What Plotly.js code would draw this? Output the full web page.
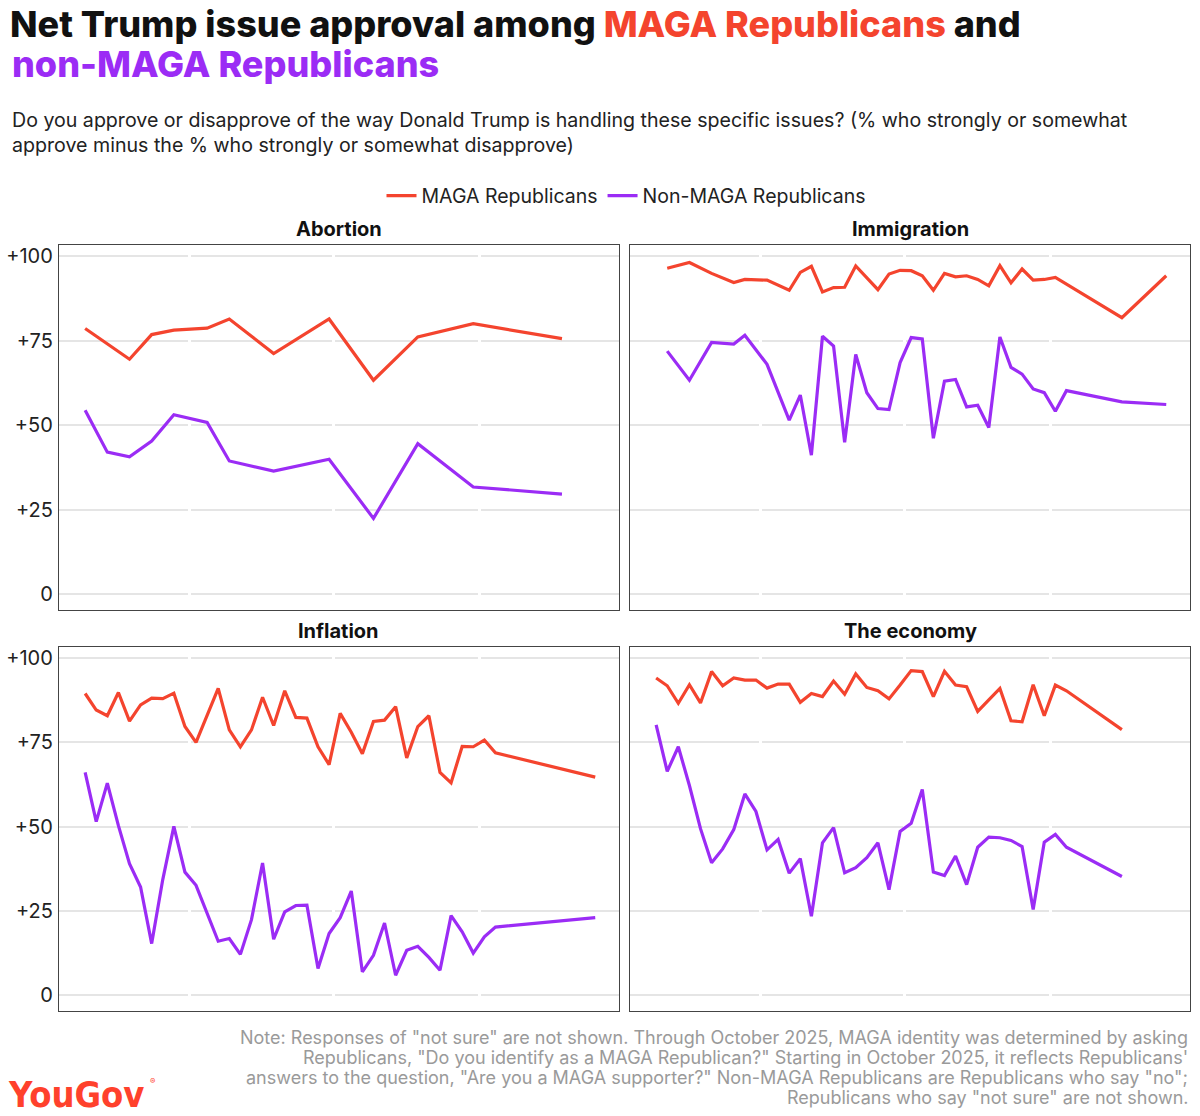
<!DOCTYPE html>
<html>
<head>
<meta charset="utf-8">
<script src="https://cdn.plot.ly/plotly-3.0.1.min.js"></script>
<style>
  html, body { margin: 0; padding: 0; background: #ffffff; }
  #chart { width: 1200px; height: 1116px; }
</style>
</head>
<body>
<div id="chart"></div>
<script>
// ---------------- DATA ----------------
const seriesNames = ["MAGA Republicans", "Non-MAGA Republicans"];
const panelTitles = ["Abortion", "Immigration", "Inflation", "The economy"];
const yTickVals = [0, 25, 50, 75, 100];
const yTickText = ["0", "+25", "+50", "+75", "+100"];
const quarterBreaks = ["2025-04-01", "2025-07-01", "2025-10-01"];

// Abortion
const abortionDates = ["2025-01-25","2025-02-08","2025-02-22","2025-03-08","2025-03-22","2025-04-12","2025-04-26",
  "2025-05-24","2025-06-28","2025-07-26","2025-08-23","2025-09-27","2025-11-22"];
const abortionMaga = [78.6, null, 69.5, 76.8, 78.1, 78.7, 81.4, 71.2, 81.4, 63.3, 76.1, 80.0, 75.6];
const abortionNonMaga = [54.4, 42.0, 40.6, 45.3, 53.1, 50.8, 39.4, 36.4, 39.9, 22.4, 44.5, 31.7, 29.6];

// Immigration
const immigrationDates = ["2025-02-01","2025-02-15","2025-03-01","2025-03-15","2025-03-22","2025-04-05","2025-04-19",
  "2025-04-26","2025-05-03","2025-05-10","2025-05-17","2025-05-24","2025-05-31","2025-06-07","2025-06-14","2025-06-21",
  "2025-06-28","2025-07-05","2025-07-12","2025-07-19","2025-07-26","2025-08-02","2025-08-09","2025-08-16","2025-08-23",
  "2025-08-30","2025-09-06","2025-09-13","2025-09-20","2025-09-27","2025-10-04","2025-10-11","2025-11-15","2025-12-13"];
const immigrationMaga = [96.4, 98.1, 94.9, 92.2, 93.1, 92.9, 89.9, 95.2, 97.0, 89.4, 90.7, 90.8, 97.1, null, 90.1, 94.7,
  95.8, 95.7, 94.2, 89.9, 94.9, 93.9, 94.2, 93.1, 91.2, 97.2, 92.1, 96.2, 92.9, 93.1, 93.7, null, 81.8, 94.2];
const immigrationNonMaga = [71.9, 63.3, 74.5, 74.0, 76.6, 68.0, 51.5, 58.9, 41.1, 76.3, 73.4, 44.9, 70.9, 59.6, 54.9, 54.6,
  68.5, 75.9, 75.5, 46.1, 63.0, 63.5, 55.4, 55.9, 49.3, 76.1, 67.1, 65.1, 60.7, 59.6, 54.1, 60.2, 56.9, 56.1];

// Inflation
const inflationDates = ["2025-01-25","2025-02-01","2025-02-08","2025-02-15","2025-02-22","2025-03-01","2025-03-08",
  "2025-03-15","2025-03-22","2025-03-29","2025-04-05","2025-04-12","2025-04-19","2025-04-26","2025-05-03","2025-05-10",
  "2025-05-17","2025-05-24","2025-05-31","2025-06-07","2025-06-14","2025-06-21","2025-06-28","2025-07-05","2025-07-12",
  "2025-07-19","2025-07-26","2025-08-02","2025-08-09","2025-08-16","2025-08-23","2025-08-30","2025-09-06","2025-09-13",
  "2025-09-20","2025-09-27","2025-10-04","2025-10-11","2025-12-13"];
const inflationMaga = [89.5, 84.6, 82.9, 89.8, 81.3, 86.1, 88.1, 88.0, 89.6, 79.7, 75.0, 83.2, 91.0, 78.7, 73.7, 78.7,
  88.4, 80.0, 90.3, 82.4, 82.2, 73.7, 68.4, 83.6, 78.0, 71.6, 81.2, 81.6, 85.6, 70.4, 79.7, 82.9, 66.1, 63.0, 73.8,
  73.7, 75.7, 71.9, 64.7];
const inflationNonMaga = [66.1, 51.5, 62.9, 50.3, 39.0, 32.1, 15.3, 34.3, 50.1, 36.5, 32.6, 24.2, 16.0, 16.8, 12.1, 22.4,
  39.2, 16.6, 24.7, 26.6, 26.7, 7.9, 18.3, 23.0, 30.9, 6.9, 11.8, 21.4, 5.9, 13.3, 14.5, 11.2, 7.4, 23.6, 18.8, 12.5,
  17.3, 20.2, 23.0];

// The economy
const economyDates = ["2025-01-25","2025-02-01","2025-02-08","2025-02-15","2025-02-22","2025-03-01","2025-03-08",
  "2025-03-15","2025-03-22","2025-03-29","2025-04-05","2025-04-12","2025-04-19","2025-04-26","2025-05-03","2025-05-10",
  "2025-05-17","2025-05-24","2025-05-31","2025-06-07","2025-06-14","2025-06-21","2025-06-28","2025-07-05","2025-07-12",
  "2025-07-19","2025-07-26","2025-08-02","2025-08-09","2025-08-16","2025-08-23","2025-08-30","2025-09-06","2025-09-13",
  "2025-09-20","2025-09-27","2025-10-04","2025-10-11","2025-11-15"];
const economyMaga = [94.1, 91.8, 86.6, 92.1, 86.7, 96.0, 91.8, 94.1, 93.5, 93.5, 91.1, 92.3, 92.3, 86.9, 89.5, 88.6,
  93.2, 89.3, 95.3, 91.3, 90.3, 87.9, 92.0, 96.3, 96.0, 88.6, 96.1, 92.0, 91.5, 84.2, 87.6, 91.0, 81.4, 81.1, 92.1,
  82.9, 92.0, 90.3, 78.8];
const economyNonMaga = [80.2, 66.4, 73.7, 62.2, 49.4, 39.3, 43.4, 49.1, 59.7, 54.5, 43.1, 46.2, 36.2, 40.5, 23.4, 45.2,
  49.7, 36.3, 37.8, 40.8, 45.2, 31.3, 48.6, 51.0, 61.0, 36.5, 35.5, 41.3, 32.8, 43.9, 46.9, 46.7, 45.9, 44.1, 25.4,
  45.4, 47.7, 43.9, 35.2];

// ---------------- STYLE ----------------
const RED = "#F4442E";
const PURPLE = "#9B2CF5";
const FONT = "Inter, 'Noto Sans', sans-serif";
const W = 1200, H = 1116;
const px = x => x / W;
const py = y => 1 - y / H;

const panels = [
  {dates: abortionDates, maga: abortionMaga, non: abortionNonMaga},
  {dates: immigrationDates, maga: immigrationMaga, non: immigrationNonMaga},
  {dates: inflationDates, maga: inflationMaga, non: inflationNonMaga},
  {dates: economyDates, maga: economyMaga, non: economyNonMaga}
];

// panel boxes in pixels [x0, x1, y0(top), y1(bottom)]
const boxes = [
  [59, 619, 245, 610],
  [630, 1190, 245, 610],
  [59, 619, 647, 1011],
  [630, 1190, 647, 1011]
];

const traces = [];
panels.forEach((p, i) => {
  const ax = i === 0 ? "" : String(i + 1);
  traces.push({
    type: "scatter", mode: "lines", x: p.dates, y: p.maga, connectgaps: true,
    name: seriesNames[0], legendgroup: "maga", showlegend: i === 0,
    line: {color: RED, width: 3.2}, xaxis: "x" + ax, yaxis: "y" + ax, hoverinfo: "skip"
  });
  traces.push({
    type: "scatter", mode: "lines", x: p.dates, y: p.non, connectgaps: true,
    name: seriesNames[1], legendgroup: "non", showlegend: i === 0,
    line: {color: PURPLE, width: 3.2}, xaxis: "x" + ax, yaxis: "y" + ax, hoverinfo: "skip"
  });
});

const layout = {
  width: W, height: H,
  margin: {l: 0, r: 0, t: 0, b: 0},
  paper_bgcolor: "#ffffff", plot_bgcolor: "#ffffff",
  font: {family: FONT, color: "#222222", size: 19},
  showlegend: true,
  legend: {
    orientation: "h", x: px(626), xanchor: "center", y: py(196), yanchor: "middle",
    font: {family: FONT, size: 19.5, color: "#222222"}, itemwidth: 30, traceorder: "normal"
  },
  title: {
    text: 'Net Trump issue approval among <span style="color:' + RED + '">MAGA Republicans</span> and',
    x: px(10), xanchor: "left", xref: "paper",
    y: py(24), yanchor: "middle", yref: "paper",
    font: {family: FONT, size: 36, weight: 800, color: "#111111"}
  },
  annotations: []
};

boxes.forEach((b, i) => {
  const ax = i === 0 ? "" : String(i + 1);
  const left = (i === 0 || i === 2);
  layout["xaxis" + ax] = {
    domain: [px(b[0]), px(b[1])], anchor: "y" + ax, type: "date",
    range: ["2025-01-08 12:00", "2025-12-28"],
    showticklabels: false, ticks: "", zeroline: false,
    // white breaks through the horizontal gridlines at quarter boundaries
    tickmode: "array", tickvals: quarterBreaks,
    showgrid: true, gridcolor: "#ffffff", gridwidth: 3,
    showline: true, mirror: true, linecolor: "#444444", linewidth: 1.2, fixedrange: true
  };
  layout["yaxis" + ax] = {
    domain: [py(b[3]), py(b[2])], anchor: "x" + ax,
    range: [-4.7, 103.3], tickmode: "array", tickvals: yTickVals, ticktext: yTickText,
    showticklabels: left, ticks: "", ticklabelstandoff: 1,
    tickfont: {family: FONT, size: 20, color: "#222222"},
    showgrid: false,
    minor: {tickmode: "array", tickvals: yTickVals, showgrid: true, gridcolor: "#e5e5e5", gridwidth: 2, ticks: ""},
    zeroline: false,
    showline: true, mirror: true, linecolor: "#444444", linewidth: 1.2, fixedrange: true
  };
  // panel title
  layout.annotations.push({
    text: "<b>" + panelTitles[i] + "</b>", xref: "paper", yref: "paper",
    x: px((b[0] + b[1]) / 2), y: py(b[2] - 16), xanchor: "center", yanchor: "middle",
    showarrow: false, font: {family: FONT, size: 20, color: "#111111", weight: 700}
  });
});

// title line 2
layout.annotations.push({
  text: "non-MAGA Republicans", xref: "paper", yref: "paper", x: px(10), y: py(64),
  xanchor: "left", yanchor: "middle", showarrow: false,
  font: {family: FONT, size: 36, weight: 800, color: PURPLE}
});
// subtitle (one annotation, two lines)
const subtitleLines = [
  "Do you approve or disapprove of the way Donald Trump is handling these specific issues? (% who strongly or somewhat",
  "approve minus the % who strongly or somewhat disapprove)"
];
layout.annotations.push({
  text: subtitleLines.join("<br>"), xref: "paper", yref: "paper", x: px(10), y: py(132),
  xanchor: "left", yanchor: "middle", align: "left", showarrow: false,
  font: {family: FONT, size: 19.6, color: "#222222"}
});
// note
const noteLines = [
  'Note: Responses of "not sure" are not shown. Through October 2025, MAGA identity was determined by asking',
  'Republicans, "Do you identify as a MAGA Republican?" Starting in October 2025, it reflects Republicans\'',
  'answers to the question, "Are you a MAGA supporter?" Non-MAGA Republicans are Republicans who say "no";',
  'Republicans who say "not sure" are not shown.'
];
noteLines.forEach((t, k) => {
  layout.annotations.push({
    text: t, xref: "paper", yref: "paper", x: px(1190), y: py(1037 + 20 * k),
    xanchor: "right", yanchor: "middle", showarrow: false,
    font: {family: FONT, size: 18, color: "#9a9a9a"}
  });
});
// logo
layout.annotations.push({
  text: "YouGov", xref: "paper", yref: "paper", x: px(6), y: py(1094),
  xanchor: "left", yanchor: "middle", showarrow: false,
  font: {family: "'Liberation Sans Narrow', 'DejaVu Sans Condensed', Roboto, sans-serif", size: 36, weight: 700, color: "#FF412C"}
});
layout.annotations.push({
  text: "®", xref: "paper", yref: "paper", x: px(152), y: py(1081),
  xanchor: "center", yanchor: "middle", showarrow: false,
  font: {family: FONT, size: 8, color: "#FF412C"}
});

Plotly.newPlot("chart", traces, layout, {staticPlot: true, displayModeBar: false});
</script>
</body>
</html>
